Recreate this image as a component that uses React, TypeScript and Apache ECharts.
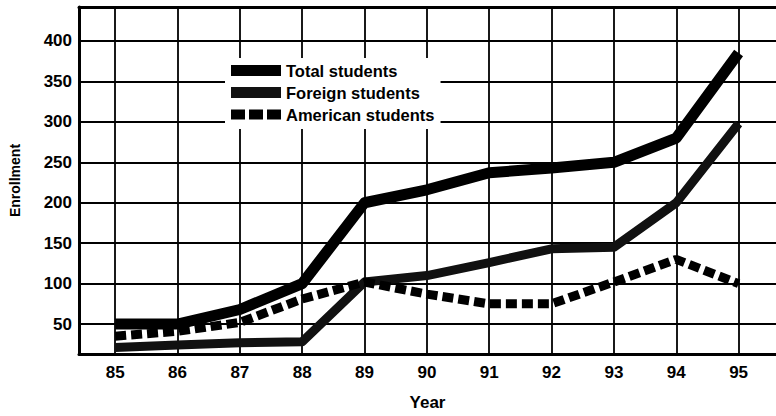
import React, { useEffect, useRef } from "react";
import * as echarts from "echarts";

const years = [85, 86, 87, 88, 89, 90, 91, 92, 93, 94, 95];
const yTicks = [50, 100, 150, 200, 250, 300, 350, 400];
const totalStudents = [50, 50, 68, 100, 200, 216, 237, 243, 250, 280, 385];
const foreignStudents = [21, 24, 27, 28, 102, 110, 126, 143, 145, 200, 298];
const americanStudents = [35, 41, 52, 81, 102, 87, 75, 75, 102, 130, 100];
const seriesNames = ["Total students", "Foreign students", "American students"];

const FONT = "'Liberation Sans', Arial, Helvetica, sans-serif";

export default function App() {
  const ref = useRef<HTMLDivElement>(null);

  useEffect(() => {
    if (!ref.current) return;
    const chart = echarts.init(ref.current, undefined, { renderer: "svg" });
    const pairs = (vals: number[]) => years.map((y, i) => [y, vals[i]]);
    chart.setOption({
      animation: false,
      backgroundColor: "#ffffff",
      grid: { left: 79, right: 0, top: 7, bottom: 61 },
      legend: {
        orient: "vertical",
        left: 225,
        top: 58,
        backgroundColor: "#ffffff",
        padding: [4, 6, 6, 6],
        itemWidth: 50,
        itemHeight: 11,
        itemGap: 5,
        textStyle: {
          fontFamily: FONT,
          fontSize: 16.5,
          fontWeight: "bold",
          color: "#000",
        },
        data: [
          { name: seriesNames[0], icon: "rect", itemStyle: { color: "#000" } },
          { name: seriesNames[1], icon: "rect", itemStyle: { color: "#111" } },
          {
            name: seriesNames[2],
            icon: "path://M0,0h14v10h-14z M18,0h14v10h-14z M36,0h14v10h-14z",
            itemStyle: { color: "#000" },
          },
        ],
      },
      xAxis: [
        {
          type: "value",
          min: 84.42,
          max: 95.6,
          name: "Year",
          nameLocation: "middle",
          nameGap: 40,
          nameTextStyle: {
            fontFamily: FONT,
            fontSize: 17,
            fontWeight: "bold",
            color: "#000",
          },
          axisLine: { show: true, lineStyle: { color: "#000", width: 3 } },
          axisTick: { show: false, customValues: years },
          axisLabel: {
            customValues: years,
            margin: 10,
            fontFamily: FONT,
            fontSize: 17,
            fontWeight: "bold",
            color: "#000",
          },
          splitLine: { show: true, lineStyle: { color: "#000", width: 1.8 } },
        },
        {
          type: "value",
          position: "top",
          min: 84.42,
          max: 95.6,
          axisLine: { show: true, lineStyle: { color: "#000", width: 3 } },
          axisTick: { show: false },
          axisLabel: { show: false },
          splitLine: { show: false },
        },
      ],
      yAxis: {
        type: "value",
        min: 13,
        max: 442,
        name: "Enrollment",
        nameLocation: "middle",
        nameGap: 57,
        nameRotate: 90,
        nameTextStyle: {
          fontFamily: FONT,
          fontSize: 14,
          fontWeight: "bold",
          color: "#000",
        },
        axisLine: { show: true, lineStyle: { color: "#000", width: 3 } },
        axisTick: { show: false, customValues: yTicks },
        axisLabel: {
          customValues: yTicks,
          margin: 7,
          fontFamily: FONT,
          fontSize: 17,
          fontWeight: "bold",
          color: "#000",
        },
        splitLine: { show: true, lineStyle: { color: "#000", width: 1.8 } },
      },
      series: [
        {
          name: seriesNames[0],
          type: "line",
          data: pairs(totalStudents),
          showSymbol: false,
          lineStyle: { color: "#000", width: 11, cap: "butt", join: "round" },
          itemStyle: { color: "#000" },
          z: 4,
        },
        {
          name: seriesNames[1],
          type: "line",
          data: pairs(foreignStudents),
          showSymbol: false,
          lineStyle: { color: "#111", width: 9, cap: "butt", join: "round" },
          itemStyle: { color: "#111" },
          z: 3,
        },
        {
          name: seriesNames[2],
          type: "line",
          data: pairs(americanStudents),
          showSymbol: false,
          lineStyle: { color: "#000", width: 9, type: [11, 5], cap: "butt" },
          itemStyle: { color: "#000" },
          z: 5,
        },
      ],
    });
    return () => chart.dispose();
  }, []);

  return (
    <div
      ref={ref}
      style={{ position: "fixed", left: 0, top: 0, width: 776, height: 416 }}
    />
  );
}
